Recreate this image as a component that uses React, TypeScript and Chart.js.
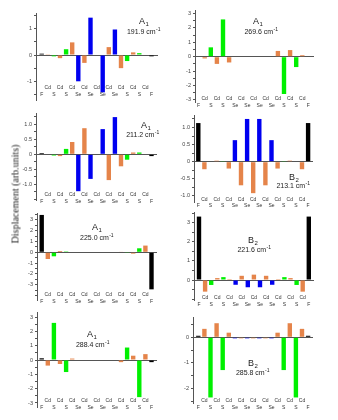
import React, { useEffect, useRef } from 'react';
import { Chart, registerables } from 'chart.js';
Chart.register(...registerables);

// Atom sequence along the slab (categories)
const atoms = ['F', 'Cd', 'S', 'Cd', 'S', 'Cd', 'Se', 'Cd', 'Se', 'Cd', 'Se', 'Cd', 'Se', 'Cd', 'S', 'Cd', 'S', 'Cd', 'F'];

// Mode symmetry and frequency (cm-1) of each panel
const modeSymbols = ['A', 'A', 'A', 'B', 'A', 'B', 'A', 'B'];
const modeSubs = ['1', '1', '1', '2', '1', '2', '1', '2'];
const freqs = ['191.9', '269.6', '211.2', '213.1', '225.0', '221.6', '288.4', '285.8'];

// Displacements (arb. units)
const disp1919 = [0.05, 0.01, -0.05, -0.12, 0.22, 0.48, -1.0, -0.3, 1.42, 0, -1.42, 0.3, 0.97, -0.5, -0.23, 0.1, 0.07, -0.02, -0.05];
const disp2696 = [0, -0.12, 0.65, -0.5, 2.59, -0.4, 0, 0, 0, 0, 0, 0, 0, 0.4, -2.59, 0.46, -0.72, 0.1, 0];
const disp2112 = [0.04, 0, -0.04, -0.06, 0.18, 0.41, -1.23, 0.87, -0.82, 0, 0.84, -0.86, 1.24, -0.4, -0.18, 0.06, 0.06, 0, -0.06];
const disp2131 = [1.13, -0.22, 0, 0.03, 0.02, -0.2, 0.63, -0.69, 1.25, -0.92, 1.25, -0.69, 0.63, -0.2, 0.02, 0.03, 0, -0.22, 1.13];
const disp2250 = [3.45, -0.62, -0.37, 0.12, 0.08, 0, 0, 0, 0, 0, 0, 0, 0, 0.04, -0.03, -0.12, 0.37, 0.62, -3.42];
const disp2216 = [3.32, -0.61, -0.26, 0.1, 0.15, 0.05, -0.25, 0.22, -0.38, 0.28, -0.38, 0.22, -0.25, 0.05, 0.15, 0.1, -0.26, -0.61, 3.32];
const disp2884 = [0.12, -0.39, 2.59, -0.28, -0.84, 0.1, 0, 0, 0, 0, 0, 0, 0, -0.15, 0.87, 0.3, -2.59, 0.41, -0.15];
const disp2858 = [0.06, 0.33, -2.35, 0.55, -1.28, 0.18, -0.04, -0.04, -0.04, -0.04, -0.04, -0.04, -0.04, 0.18, -1.28, 0.55, -2.35, 0.33, 0.06];

const seriesList = [disp1919, disp2696, disp2112, disp2131, disp2250, disp2216, disp2884, disp2858];

const atomColor: Record<string, string> = { F: '#000000', Cd: '#e5844a', S: '#00f000', Se: '#0000f0' };

// Layout (page pixels): axis x, plot top/bottom/right, zero line y, px per unit, x of first bar,
// label row y, tick steps, label range, annotation positions
const layouts = [
  { ax: 36, top: 13, bottom: 100, right: 158, zero: 55, unit: 26.3, f0: 41.7, labY: 88, major: 1, minor: 0.5, dec: 0, labMin: -1, labMax: 1, tx: 144, ty: 24, fx: 143.5, fy: 34 },
  { ax: 195, top: 10, bottom: 102, right: 314, zero: 56.7, unit: 14.4, f0: 198.6, labY: 99, major: 1, minor: 0.5, dec: 0, labMin: -3, labMax: 3, tx: 258, ty: 24, fx: 261, fy: 34 },
  { ax: 36, top: 113, bottom: 200, right: 157, zero: 154.3, unit: 30, f0: 41.7, labY: 195, major: 0.5, minor: 0.25, dec: 1, labMin: -1, labMax: 1, tx: 146, ty: 128, fx: 142.5, fy: 137 },
  { ax: 194, top: 115, bottom: 202, right: 313, zero: 161.7, unit: 34.2, f0: 198.3, labY: 199.3, major: 0.5, minor: 0.25, dec: 1, labMin: -1, labMax: 1, tx: 294, ty: 180, fx: 293, fy: 188 },
  { ax: 37, top: 213, bottom: 300, right: 157, zero: 252.3, unit: 10.83, f0: 41.7, labY: 295, major: 1, minor: 0.5, dec: 0, labMin: -3, labMax: 3, tx: 97, ty: 229.5, fx: 96.7, fy: 240 },
  { ax: 194, top: 212, bottom: 300, right: 314, zero: 280, unit: 19.1, f0: 199, labY: 297.7, major: 1, minor: 0.5, dec: 0, labMin: 0, labMax: 3, tx: 253, ty: 243, fx: 254, fy: 251.5 },
  { ax: 37, top: 312, bottom: 407, right: 157, zero: 360, unit: 14.33, f0: 41.7, labY: 400.7, major: 1, minor: 0.5, dec: 0, labMin: -3, labMax: 3, tx: 92, ty: 337, fx: 92.5, fy: 346.5 },
  { ax: 193, top: 317, bottom: 403, right: 313, zero: 337.3, unit: 25.6, f0: 198.3, labY: 400.7, major: 1, minor: 0.5, dec: 0, labMin: -2, labMax: 0, tx: 253, ty: 366, fx: 252.5, fy: 375 },
];

const STEP = 6.1;
const YW = 20, PT = 6, PB = 14, PR = 10;
const FONT = 'Arial, "Liberation Sans", sans-serif';
const LABEL_LH = 6.5;

function isMult(v: number, s: number) {
  const r = v / s;
  return Math.abs(r - Math.round(r)) < 1e-6;
}

function Panel({ idx }: { idx: number }) {
  const ref = useRef<HTMLCanvasElement>(null);
  const L = layouts[idx];
  const axX = Math.round(L.ax);
  const aTop = Math.round(L.top);
  const aBot = Math.round(L.bottom);
  const rX = Math.round(L.right);
  const cl = axX - YW;
  const ct = aTop - PT;
  const cw = rX - axX + YW + PR;
  const ch = aBot - aTop + PT + PB;

  useEffect(() => {
    const values = seriesList[idx];
    const yMax = (L.zero - aTop) / L.unit;
    const yMin = -(aBot - L.zero) / L.unit;
    const xMin = -(L.f0 - axX) / STEP;
    const xMax = (rX - L.f0) / STEP;

    const textPlugin = {
      id: 'modeText',
      afterDraw(chart: any) {
        const ctx = chart.ctx;
        ctx.save();
        // atom labels under the bars, staggered in two rows
        const xs = chart.scales.x;
        ctx.fillStyle = '#333';
        ctx.font = `5px ${FONT}`;
        ctx.textAlign = 'center';
        ctx.textBaseline = 'middle';
        atoms.forEach((a, i) => {
          const px = xs.getPixelForValue(i);
          const py = L.labY - ct + (a === 'Cd' ? 0 : LABEL_LH);
          ctx.fillText(a, px, py);
        });

        ctx.fillStyle = '#222';
        ctx.textBaseline = 'alphabetic';
        ctx.textAlign = 'left';
        // mode symbol with subscript
        ctx.font = `9px ${FONT}`;
        const sym = modeSymbols[idx];
        const wSym = ctx.measureText(sym).width;
        ctx.font = `6px ${FONT}`;
        const wSub = ctx.measureText(modeSubs[idx]).width;
        const sx = L.tx - cl - (wSym + wSub + 0.5) / 2;
        const sy = L.ty - ct;
        ctx.font = `9px ${FONT}`;
        ctx.fillText(sym, sx, sy);
        ctx.font = `6px ${FONT}`;
        ctx.fillText(modeSubs[idx], sx + wSym + 0.5, sy + 2);
        // frequency with superscript
        const main = freqs[idx] + ' cm';
        ctx.font = `7px ${FONT}`;
        const wMain = ctx.measureText(main).width;
        ctx.font = `5px ${FONT}`;
        const wSup = ctx.measureText('-1').width;
        const fx = L.fx - cl - (wMain + wSup) / 2;
        const fy = L.fy - ct;
        ctx.font = `7px ${FONT}`;
        ctx.fillText(main, fx, fy);
        ctx.font = `5px ${FONT}`;
        ctx.fillText('-1', fx + wMain + 0.3, fy - 3);
        ctx.restore();
      },
    };

    const chart = new Chart(ref.current as HTMLCanvasElement, {
      type: 'bar',
      data: {
        datasets: [
          {
            data: values.map((v, i) => ({ x: i, y: v })),
            backgroundColor: atoms.map((a) => atomColor[a]),
            borderWidth: 0,
            barPercentage: 0.72,
            categoryPercentage: 1,
          } as any,
        ],
      },
      options: {
        responsive: false,
        animation: false,
        devicePixelRatio: 1,
        layout: { padding: { left: 0, top: PT, right: PR, bottom: PB } },
        plugins: { legend: { display: false }, tooltip: { enabled: false }, title: { display: false } },
        scales: {
          x: {
            type: 'linear',
            min: xMin,
            max: xMax,
            offset: false,
            grid: { display: false, offset: false },
            border: { display: false },
            afterFit: (s: any) => {
              s.height = 0;
            },
            ticks: { display: false, stepSize: 1 },
          },
          y: {
            min: yMin,
            max: yMax,
            afterFit: (s: any) => {
              s.width = YW;
            },
            border: { display: true, color: '#555', width: 1 },
            grid: {
              drawOnChartArea: true,
              drawTicks: true,
              tickLength: 2,
              lineWidth: 1,
              color: (c: any) => (c.tick && Math.abs(c.tick.value) < 1e-9 ? '#555' : 'rgba(0,0,0,0)'),
              tickColor: (c: any) => (c.tick && isMult(c.tick.value, L.minor) ? '#555' : 'rgba(0,0,0,0)'),
            },
            ticks: {
              stepSize: L.minor,
              autoSkip: false,
              includeBounds: false,
              padding: 2,
              color: '#444',
              font: { family: FONT, size: 5.5 },
              callback: (v: any) => {
                if (!isMult(v, L.major)) return '';
                if (v < L.labMin - 1e-6 || v > L.labMax + 1e-6) return '';
                if (Math.abs(v) < 1e-9) return '0';
                return L.dec ? Number(v).toFixed(L.dec) : String(Math.round(v));
              },
            },
          },
        },
      } as any,
      plugins: [textPlugin],
    });
    return () => chart.destroy();
  }, []);

  return (
    <canvas
      ref={ref}
      width={cw}
      height={ch}
      style={{ position: 'absolute', left: cl, top: ct, width: cw, height: ch }}
    />
  );
}

export default function App() {
  return (
    <div style={{ position: 'absolute', left: 0, top: 0, width: 338, height: 420, background: '#fff', overflow: 'hidden' }}>
      {layouts.map((_, i) => (
        <Panel key={i} idx={i} />
      ))}
      <div
        style={{
          position: 'absolute',
          left: 15,
          top: 194,
          transform: 'translate(-50%, -50%) rotate(-90deg)',
          whiteSpace: 'nowrap',
          fontFamily: '"Liberation Serif", "Times New Roman", serif',
          fontSize: 10,
          color: '#222',
        }}
      >
        Displacement (arb.units)
      </div>
    </div>
  );
}
